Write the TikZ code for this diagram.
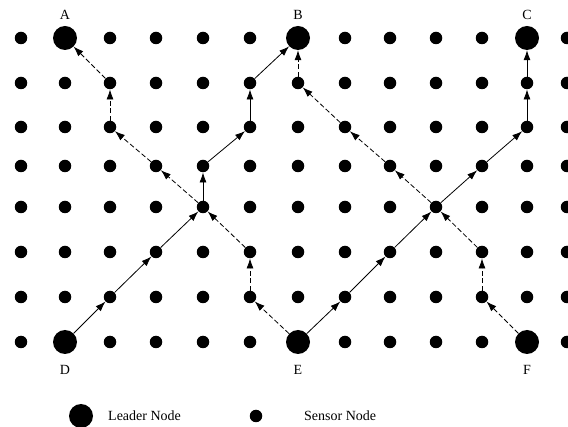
\documentclass[tikz,border=0pt]{standalone}
\usepackage{fontspec}
\setmainfont{Liberation Serif}
\usetikzlibrary{arrows.meta}
\begin{document}
\begin{tikzpicture}[x=1pt,y=-1pt,
  sensor/.style={circle,fill=black,inner sep=0pt,minimum size=12.5pt},
  leader/.style={circle,fill=black,inner sep=0pt,minimum size=24pt},
  lbl/.style={font=\fontsize{14}{16}\selectfont,inner sep=0pt},
  legtxt/.style={font=\fontsize{14}{16}\selectfont,inner sep=0pt,anchor=west},
  solidarrow/.style={line width=0.8pt,-{Latex[length=10pt,width=7pt]}},
  dasharrow/.style={solidarrow,dash pattern=on 5pt off 2.5pt}]
\useasboundingbox (0,0) rectangle (568,427);
\def\colx{{21,65,110,156,203,250,298,345,390,436,482,527,567}}
\def\rowy{{38,83,127,166,207,252,297,342}}
\foreach \i in {0,...,12}{
  \foreach \j in {0,...,7}{
    \pgfmathsetmacro\xx{\colx[\i]}
    \pgfmathsetmacro\yy{\rowy[\j]}
    \pgfmathtruncatemacro\isL{((\i==1)||(\i==6)||(\i==11))&&((\j==0)||(\j==7))}
    \ifnum\isL=0
      \node[sensor] (n-\i-\j) at (\xx,\yy) {};
    \fi
  }
}
% leader nodes
\node[leader] (A) at (65,38) {};
\node[leader] (B) at (298,38) {};
\node[leader] (C) at (527,38) {};
\node[leader] (D) at (65,342) {};
\node[leader] (E) at (298,342) {};
\node[leader] (F) at (527,342) {};
% labels
\node[lbl] (lA) at (65,15) {A};
\node[lbl] (lB) at (298,15) {B};
\node[lbl] (lC) at (527,15) {C};
\node[lbl] (lD) at (65,370) {D};
\node[lbl] (lE) at (298,370) {E};
\node[lbl] (lF) at (527,370) {F};
% solid paths
\foreach \a/\b in {D/n-2-6, n-2-6/n-3-5, n-3-5/n-4-4, n-4-4/n-4-3, n-4-3/n-5-2, n-5-2/n-5-1, n-5-1/B,
                   E/n-7-6, n-7-6/n-8-5, n-8-5/n-9-4, n-9-4/n-10-3, n-10-3/n-11-2, n-11-2/n-11-1, n-11-1/C}
  \draw[solidarrow] (\a) -- (\b);
% dashed paths
\foreach \a/\b in {E/n-5-6, n-5-6/n-5-5, n-5-5/n-4-4, n-4-4/n-3-3, n-3-3/n-2-2, n-2-2/n-2-1, n-2-1/A,
                   F/n-10-6, n-10-6/n-10-5, n-10-5/n-9-4, n-9-4/n-8-3, n-8-3/n-7-2, n-7-2/n-6-1, n-6-1/B}
  \draw[dasharrow] (\a) -- (\b);
% legend
\node[leader] (legL) at (81,416) {};
\node[legtxt] (legLt) at (108,416) {Leader Node};
\node[sensor] (legS) at (256,416) {};
\node[legtxt] (legSt) at (304,416) {Sensor Node};
\end{tikzpicture}
\end{document}
